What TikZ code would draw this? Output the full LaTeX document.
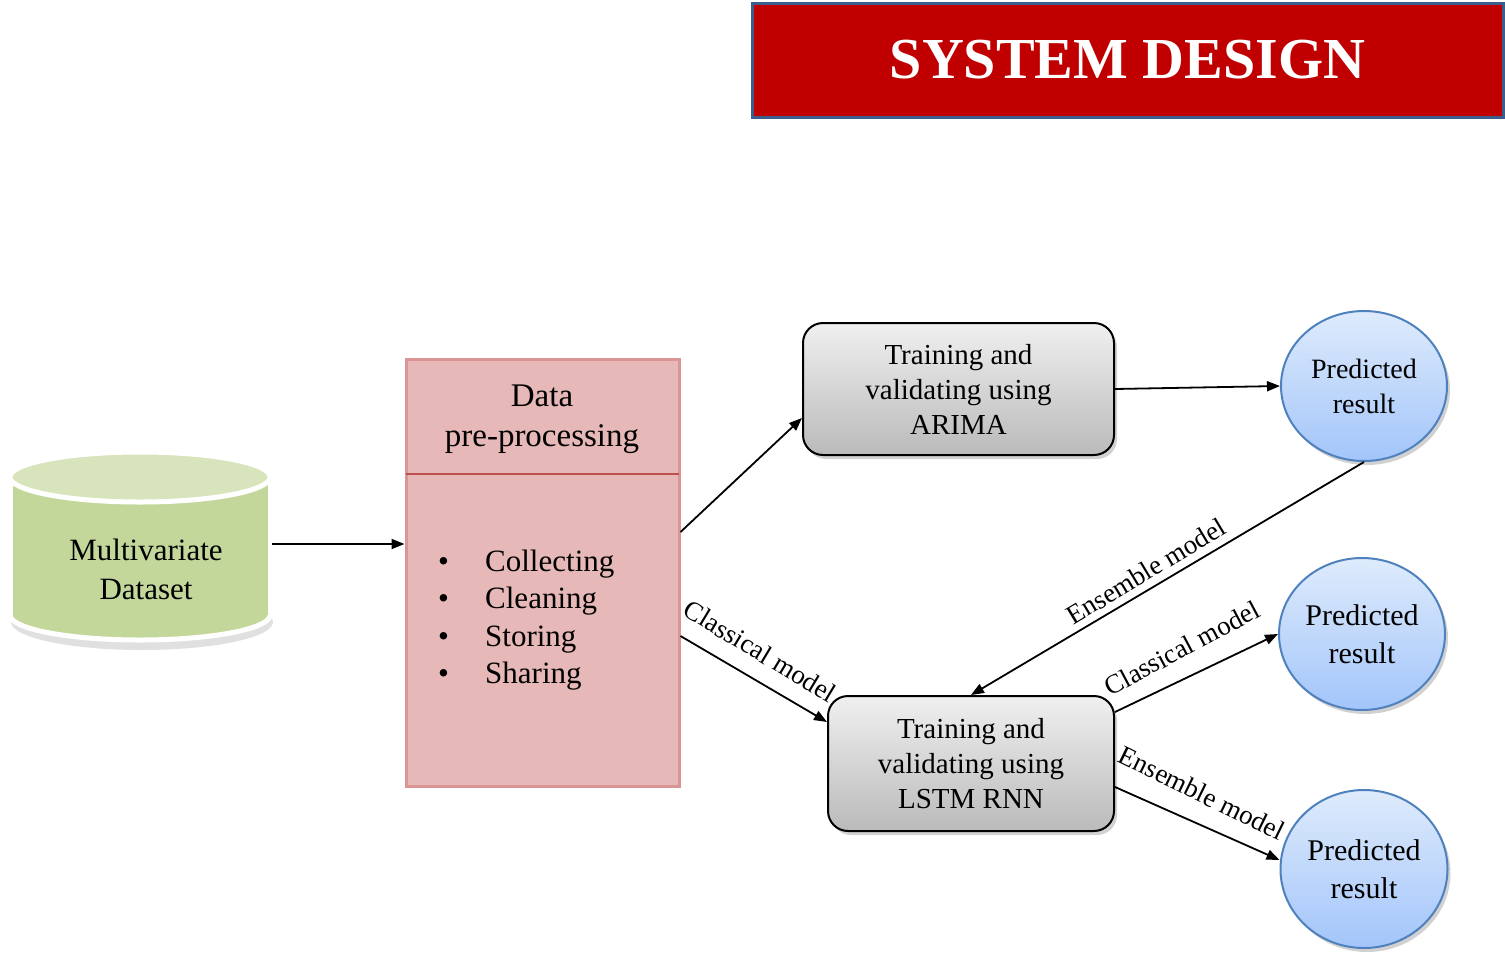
\documentclass[tikz,border=0pt]{standalone}
\usepackage{fontspec}
\setmainfont{Liberation Serif}
\usetikzlibrary{arrows.meta,calc,shadows,shapes.geometric}
\definecolor{titlered}{HTML}{C00000}
\definecolor{titleedge}{HTML}{3B5E8C}
\definecolor{cylbody}{HTML}{C4D79B}
\definecolor{cyltop}{HTML}{D8E4BC}
\definecolor{prefill}{HTML}{E6B8B7}
\definecolor{preedge}{HTML}{D99694}
\definecolor{prediv}{HTML}{C0504D}
\definecolor{circedge}{HTML}{4F81BD}
\definecolor{circtop}{HTML}{DEEBFC}
\definecolor{circbot}{HTML}{A3C5FA}
\tikzset{
  softshadow/.style={drop shadow={shadow xshift=3pt,shadow yshift=-4pt,opacity=0.3,fill=black!60}},
  arr/.style={line width=1.8pt,-{Triangle[length=13pt,width=10pt]}},
  trainbox/.style={draw=black,line width=2pt,rounded corners=20pt,top color=black!6,bottom color=black!27,
    align=center,inner sep=0pt,font=\fontsize{29}{35}\selectfont,softshadow},
  resultcirc/.style={ellipse,draw=circedge,line width=2pt,top color=circtop,bottom color=circbot,
    align=center,inner sep=0pt,softshadow},
  arrlab/.style={font=\fontsize{27}{30}\selectfont,inner sep=0pt},
}
\begin{document}
\begin{tikzpicture}[x=1pt,y=-1pt]
\useasboundingbox (0,0) rectangle (1505,959);

% title
\node[draw=titleedge,line width=3pt,fill=titlered,minimum width=751pt,minimum height=114pt,inner sep=0pt,
  text=white,font=\fontsize{58}{60}\selectfont\bfseries] (title) at (1127.5,60) {SYSTEM DESIGN};

% cylinder
\fill[black,opacity=0.12] (142,622) ellipse[x radius=131,y radius=28];
\fill[cylbody,draw=white,line width=5pt] (140,615) ellipse[x radius=130,y radius=25];
\fill[cylbody] (10,477) rectangle (270,615);
\draw[white,line width=5pt] (10,477) -- (10,615);
\draw[white,line width=5pt] (270,477) -- (270,615);
\fill[cyltop,draw=white,line width=5pt] (140,477) ellipse[x radius=130,y radius=25];
\node[align=center,inner sep=0pt,font=\fontsize{31}{39}\selectfont] (cyl) at (146,569) {Multivariate\\Dataset};
\coordinate (cylout) at (272,544);

% pre-processing box
\node[draw=preedge,fill=prefill,line width=3pt,minimum width=273pt,minimum height=427pt,inner sep=0pt] (pre) at (542.5,572.5) {};
\draw[prediv,line width=2pt] ($(pre.north west)+(1.5,116)$) -- ($(pre.north east)+(-1.5,116)$);
\node[align=center,inner sep=0pt,font=\fontsize{33}{40}\selectfont] (pretitle) at (542,419) {Data\\pre-processing};
\node[align=left,anchor=west,inner sep=0pt,font=\fontsize{31}{37.5}\selectfont] (prelist) at (438,620)
  {\makebox[47pt][l]{\textbullet}Collecting\\\makebox[47pt][l]{\textbullet}Cleaning\\\makebox[47pt][l]{\textbullet}Storing\\\makebox[47pt][l]{\textbullet}Sharing};

% training boxes
\node[trainbox,minimum width=311pt,minimum height=132pt] (arima) at (958.5,389) {Training and\\validating using\\ARIMA};
\node[trainbox,minimum width=286pt,minimum height=135pt] (lstm) at (971,763.5) {Training and\\validating using\\LSTM RNN};

% result circles
\node[resultcirc,minimum width=166pt,minimum height=150pt,font=\fontsize{28}{35}\selectfont] (c1) at (1364,386) {Predicted\\result};
\node[resultcirc,minimum width=166pt,minimum height=152pt,font=\fontsize{30}{38}\selectfont] (c2) at (1362,634) {Predicted\\result};
\node[resultcirc,minimum width=167pt,minimum height=158pt,font=\fontsize{30}{38}\selectfont] (c3) at (1364,869) {Predicted\\result};

% connectors
\draw[arr] (cylout) -- ([yshift=28.5pt]pre.west);
\draw[arr] ([yshift=40.5pt]pre.east) -- ([yshift=-29pt]arima.west);
\draw[arr] ([yshift=-63.5pt]pre.east) -- ([yshift=41.5pt]lstm.west);
\draw[arr] (arima.east) -- (c1.west);
\draw[arr] (c1.south) -- (lstm.north);
\draw[arr] ([yshift=51.5pt]lstm.east) -- (c2.west);
\draw[arr] ([yshift=-23.5pt]lstm.east) -- ([yshift=9pt]c3.west);

% labels
\node[arrlab,rotate=-31] (lab1) at (760,651) {Classical model};
\node[arrlab,rotate=31] (lab2) at (1146,571) {Ensemble model};
\node[arrlab,rotate=28] (lab3) at (1182,648) {Classical model};
\node[arrlab,rotate=-26] (lab4) at (1202,793) {Ensemble model};
\end{tikzpicture}
\end{document}
